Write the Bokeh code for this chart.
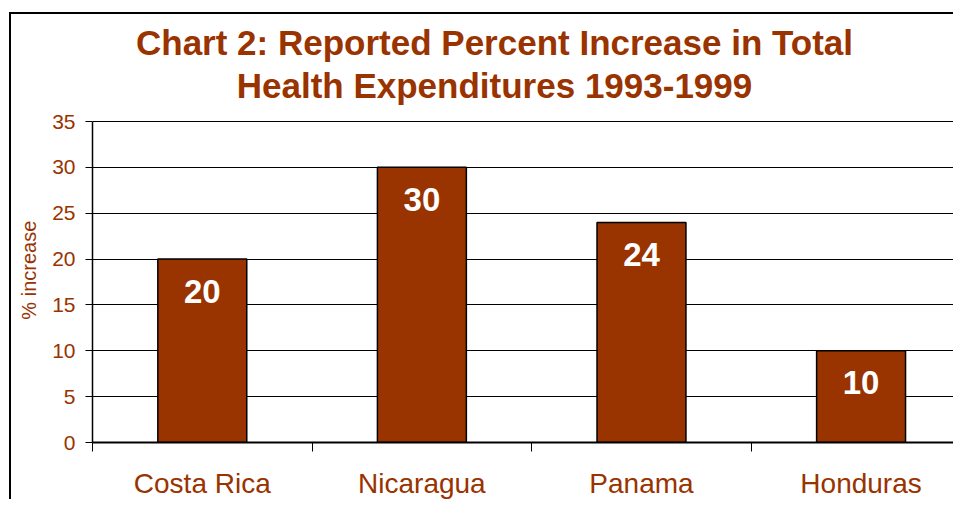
from bokeh.plotting import figure
from bokeh.models import Range1d, FixedTicker, ColumnDataSource, Label
from bokeh.core.properties import value
from bokeh.embed import file_html
from bokeh.resources import INLINE

categories = ["Costa Rica", "Nicaragua", "Panama", "Honduras"]
increase = [20, 30, 24, 10]
y_ticks = [0, 5, 10, 15, 20, 25, 30, 35]
title_lines = ["Chart 2: Reported Percent Increase in Total", "Health Expenditures 1993-1999"]
y_title = "% increase"

BROWN = "#993300"
FONT = "Liberation Sans"

pos = [i + 0.5 for i in range(len(categories))]
src = ColumnDataSource(dict(x=pos, top=increase, label=[str(v) for v in increase]))

# frame spans the title area too; the value axis itself stops at 35
y_max = max(y_ticks)
plot_px, frame_px = 321, 428
p = figure(width=944, height=487, output_backend="svg", toolbar_location=None,
           title=None,
           x_range=Range1d(0, len(categories) - 0.07),
           y_range=Range1d(0, y_max * frame_px / plot_px),
           min_border_left=81, min_border_right=0, min_border_top=0,
           min_border_bottom=59)
p.margin = (12, 0, 0, 9)
p.styles = {"border-top": "2px solid black", "border-left": "2px solid black"}
p.outline_line_color = None
p.background_fill_color = "white"
p.border_fill_color = "white"

for txt, yy in [(title_lines[0], 400), (title_lines[1], 357)]:
    p.add_layout(Label(x=402, y=yy, x_units="screen", y_units="screen", text=txt,
                       text_align="center", text_baseline="alphabetic",
                       text_font=FONT, text_font_size="35px",
                       text_font_style="bold", text_color=BROWN))

p.vbar(x="x", top="top", width=0.405, source=src, fill_color=BROWN,
       line_color="black", line_width=1.5)
p.text(x="x", y="top", text="label", source=src, y_offset=32, text_align="center",
       text_baseline="middle", text_color="white", text_font=value(FONT),
       text_font_size="33px", text_font_style="bold")

xa = p.xaxis[0]
xa.ticker = FixedTicker(ticks=pos, minor_ticks=list(range(len(categories) + 1)))
xa.major_label_overrides = {p_: c for p_, c in zip(pos, categories)}
xa.major_tick_out = 0
xa.major_tick_in = 0
xa.minor_tick_out = 9
xa.minor_tick_in = 0
xa.minor_tick_line_color = "black"
xa.axis_line_color = "black"
xa.axis_line_width = 2
xa.major_label_text_font = FONT
xa.major_label_text_font_size = "28px"
xa.major_label_text_color = BROWN
xa.major_label_standoff = 16

ya = p.yaxis[0]
ya.ticker = FixedTicker(ticks=y_ticks)
ya.bounds = (0, y_max)
ya.minor_tick_line_color = None
ya.major_tick_out = 7
ya.major_tick_in = 0
ya.major_tick_line_color = "black"
ya.axis_line_color = "black"
ya.axis_line_width = 1.5
ya.major_label_text_font = FONT
ya.major_label_text_font_size = "21px"
ya.major_label_text_color = BROWN
ya.major_label_standoff = 10
# trailing no-break spaces move the centred label down to the middle of the 0-35 span
ya.axis_label = y_title + "\u00a0" * 15
ya.axis_label_text_font = FONT
ya.axis_label_text_font_size = "20px"
ya.axis_label_text_font_style = "normal"
ya.axis_label_text_color = BROWN
ya.axis_label_standoff = 9

p.xgrid.grid_line_color = None
p.ygrid.grid_line_color = "black"
p.ygrid.grid_line_width = 1

open("out.html", "w").write(file_html(p, INLINE))
